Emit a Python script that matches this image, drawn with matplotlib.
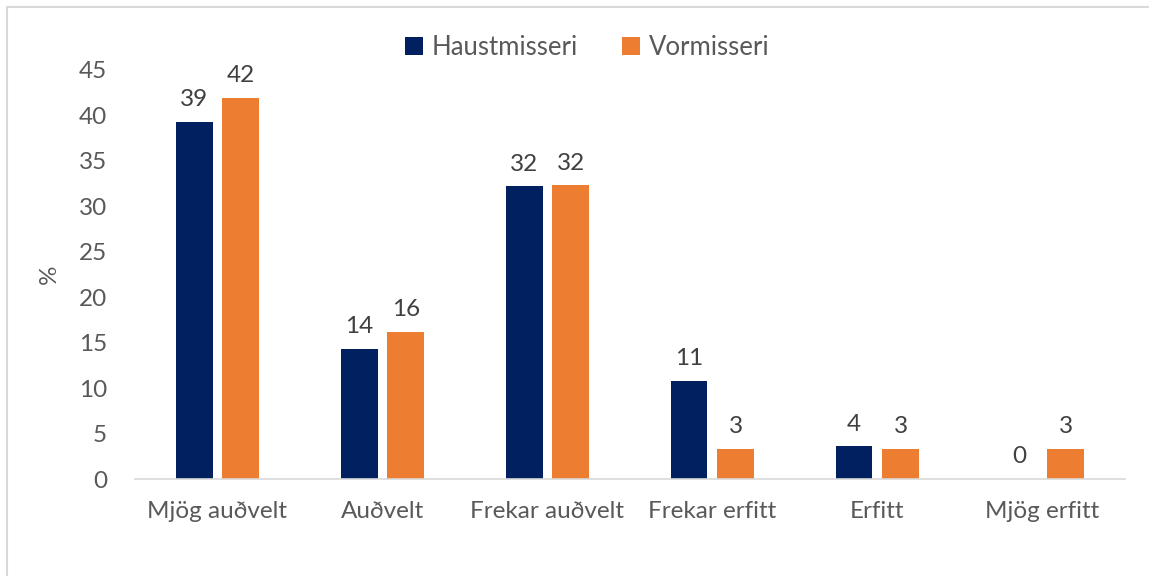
import matplotlib.pyplot as plt
import matplotlib.patches as patches
import numpy as np

categories = ['Mjög auðvelt', 'Auðvelt', 'Frekar auðvelt', 'Frekar erfitt', 'Erfitt', 'Mjög erfitt']
haust = [39.3, 14.3, 32.2, 10.8, 3.6, 0.0]
vor = [41.9, 16.2, 32.3, 3.3, 3.3, 3.3]
series_names = ['Haustmisseri', 'Vormisseri']

plt.rcParams['font.family'] = ['Lato', 'DejaVu Sans']

fig = plt.figure(figsize=(11.49, 5.76), dpi=100)
ax = fig.add_axes((0.1175, 0.168, 0.8615, 0.7105))

x = np.arange(len(categories))
w = 0.224
off = 0.142
b1 = ax.bar(x - off, haust, w, color='#002060', label=series_names[0])
b2 = ax.bar(x + off, vor, w, color='#ED7D31', label=series_names[1])

for bars, vals in ((b1, haust), (b2, vor)):
    for b, v in zip(bars, vals):
        ax.text(b.get_x() + b.get_width() / 2, v + 1.3, '%d' % round(v),
                ha='center', va='bottom', fontsize=17.5, color='#404040')

ax.set_xlim(-0.5, 5.5)
ax.set_ylim(0, 45)
ax.set_yticks(range(0, 50, 5))
ax.set_xticks(x)
ax.set_xticklabels(categories)
ax.tick_params(axis='both', length=0, labelsize=17.5, colors='#595959')
ax.tick_params(axis='x', pad=16)
ax.tick_params(axis='y', pad=20)
for s in ['top', 'right', 'left']:
    ax.spines[s].set_visible(False)
ax.spines['bottom'].set_color('#D9D9D9')
ax.spines['bottom'].set_linewidth(1.2)

ax.set_ylabel('%', fontsize=17.5, color='#595959', labelpad=14)

fig.legend(loc='center', bbox_to_anchor=(0.511, 0.918), ncol=2, frameon=False,
           fontsize=18.5, labelcolor='#595959', handlelength=0.7, handleheight=0.7,
           handletextpad=0.35, columnspacing=1.7)

fig.patches.append(patches.Rectangle((0.006, -0.2), 1.2, 1.188, transform=fig.transFigure,
                                     fill=False, edgecolor='#D9D9D9', linewidth=1.5))

plt.savefig('out.png', dpi=100)
plt.close()
